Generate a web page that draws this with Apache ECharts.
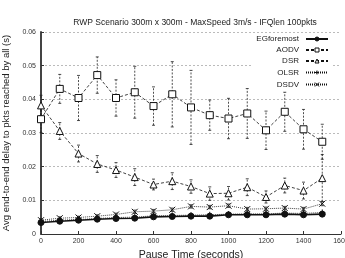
<!DOCTYPE html>
<html>
<head>
<meta charset="utf-8">
<script src="https://cdn.jsdelivr.net/npm/echarts@6/dist/echarts.min.js"></script>
<style>
  html, body { margin: 0; padding: 0; background: #fff; }
  #main { width: 345px; height: 258px; }
</style>
</head>
<body>
<div id="main"></div>
<script>
  // pause times (s)
  var pauseTimes = [0, 100, 200, 300, 400, 500, 600, 700, 800, 900, 1000, 1100, 1200, 1300, 1400, 1500];

  // mean delay values
  var egforemost = [0.0034, 0.0038, 0.0041, 0.0044, 0.0046, 0.0047, 0.0051, 0.0052, 0.0053, 0.0053, 0.0057, 0.0057, 0.0057, 0.0059, 0.0057, 0.0059];
  var aodv = [0.0341, 0.0431, 0.0404, 0.0472, 0.0404, 0.0421, 0.0380, 0.0415, 0.0376, 0.0353, 0.0343, 0.0358, 0.0308, 0.0363, 0.0311, 0.0274];
  var dsr = [0.0382, 0.0306, 0.0239, 0.0208, 0.0190, 0.0169, 0.0147, 0.0157, 0.0141, 0.0120, 0.0121, 0.0139, 0.0110, 0.0144, 0.0129, 0.0166];
  var olsr = [0.0037, 0.0041, 0.0043, 0.0046, 0.0049, 0.0050, 0.0054, 0.0055, 0.0056, 0.0057, 0.0059, 0.0060, 0.0060, 0.0062, 0.0061, 0.0064];
  var dsdv = [0.0041, 0.0047, 0.0049, 0.0053, 0.0058, 0.0066, 0.0068, 0.0072, 0.0082, 0.0080, 0.0084, 0.0074, 0.0075, 0.0077, 0.0074, 0.0090];

  // half-width of the confidence intervals
  var egforemostErr = [0.0003, 0.0003, 0.0003, 0.0003, 0.0003, 0.0003, 0.0003, 0.0003, 0.0003, 0.0003, 0.0003, 0.0003, 0.0003, 0.0003, 0.0003, 0.0003];
  var aodvErr = [0.0040, 0.0043, 0.0067, 0.0054, 0.0054, 0.0077, 0.0057, 0.0097, 0.0110, 0.0045, 0.0060, 0.0074, 0.0057, 0.0058, 0.0059, 0.0052];
  var dsrErr = [0.0030, 0.0025, 0.0025, 0.0025, 0.0022, 0.0025, 0.0016, 0.0025, 0.0020, 0.0020, 0.0020, 0.0025, 0.0018, 0.0022, 0.0025, 0.0070];
  var olsrErr = [0.0003, 0.0003, 0.0003, 0.0003, 0.0003, 0.0003, 0.0003, 0.0003, 0.0003, 0.0003, 0.0003, 0.0003, 0.0003, 0.0003, 0.0003, 0.0003];
  var dsdvErr = [0.0004, 0.0004, 0.0004, 0.0004, 0.0004, 0.0005, 0.0005, 0.0005, 0.0005, 0.0005, 0.0005, 0.0005, 0.0005, 0.0005, 0.0005, 0.0006];

  var plusPath = 'path://M5,0L5,10M0,5L10,5';
  var crossPath = 'path://M0,0L10,10M10,0L0,10';

  function pairs(vals) {
    return pauseTimes.map(function (t, i) { return [t, vals[i]]; });
  }

  function errorSeries(name, vals, errs, dash) {
    return {
      name: name,
      type: 'custom',
      silent: true,
      z: 1,
      itemStyle: { color: '#111' },
      data: pauseTimes.map(function (t, i) { return [t, vals[i] - errs[i], vals[i] + errs[i]]; }),
      renderItem: function (params, api) {
        var lo = api.coord([api.value(0), api.value(1)]);
        var hi = api.coord([api.value(0), api.value(2)]);
        var cap = 1.5;
        var style = { stroke: '#222', lineWidth: 0.8, lineDash: dash };
        return {
          type: 'group',
          children: [
            { type: 'line', shape: { x1: lo[0], y1: lo[1], x2: hi[0], y2: hi[1] }, style: style },
            { type: 'line', shape: { x1: lo[0] - cap, y1: lo[1], x2: lo[0] + cap, y2: lo[1] }, style: { stroke: '#222', lineWidth: 0.8 } },
            { type: 'line', shape: { x1: hi[0] - cap, y1: hi[1], x2: hi[0] + cap, y2: hi[1] }, style: { stroke: '#222', lineWidth: 0.8 } }
          ]
        };
      }
    };
  }

  function lineSeries(name, vals, symbol, size, dash, width, fill) {
    return {
      name: name,
      type: 'line',
      data: pairs(vals),
      symbol: symbol,
      symbolSize: size,
      showAllSymbol: true,
      z: 3,
      color: '#111',
      lineStyle: { color: '#111', width: width, type: dash },
      itemStyle: { color: fill, borderColor: '#111', borderWidth: 1 }
    };
  }

  var chart = echarts.init(document.getElementById('main'));
  chart.setOption({
    animation: false,
    color: ['#111'],
    textStyle: { fontFamily: 'Liberation Sans, Arial, sans-serif' },
    title: {
      text: 'RWP Scenario 300m x 300m - MaxSpeed 3m/s - IFQlen 100pkts',
      left: 190,
      textAlign: 'center',
      top: 13,
      textStyle: { fontSize: 8.5, fontWeight: 'normal', color: '#222' }
    },
    legend: {
      right: 14,
      top: 34,
      orient: 'vertical',
      align: 'right',
      itemWidth: 22,
      itemHeight: 5,
      itemGap: 3,
      backgroundColor: '#fff',
      padding: [1, 2, 1, 4],
      textStyle: { fontSize: 8, color: '#222', padding: [0, 2, 0, 0] },
      data: [
        { name: 'EGforemost', itemStyle: { color: '#111', borderColor: '#111', borderWidth: 1 } },
        { name: 'AODV', itemStyle: { color: '#fff', borderColor: '#111', borderWidth: 1 } },
        { name: 'DSR', itemStyle: { color: '#fff', borderColor: '#111', borderWidth: 1 } },
        { name: 'OLSR', itemStyle: { color: 'none', borderColor: '#111', borderWidth: 1 } },
        { name: 'DSDV', itemStyle: { color: 'none', borderColor: '#111', borderWidth: 1 } }
      ]
    },
    grid: { left: 41, right: 4, top: 32, bottom: 24, outerBoundsMode: 'none' },
    xAxis: {
      type: 'value',
      min: 0,
      max: 1600,
      interval: 200,
      name: 'Pause Time (seconds)',
      nameLocation: 'middle',
      nameGap: 12,
      nameTextStyle: { fontSize: 10.5, color: '#222' },
      axisLine: { lineStyle: { color: '#333', width: 1 } },
      axisTick: { inside: true, length: 3, lineStyle: { color: '#333' } },
      axisLabel: { fontSize: 7, color: '#333', margin: 4,
        formatter: function (v) { return String(v); } },
      splitLine: { show: false }
    },
    yAxis: {
      type: 'value',
      min: 0,
      max: 0.06,
      interval: 0.01,
      name: 'Avg end-to-end delay to pkts reached by all (s)',
      nameLocation: 'middle',
      nameGap: 27,
      nameTextStyle: { fontSize: 9.5, color: '#222' },
      axisLine: { show: true, lineStyle: { color: '#444', width: 2 } },
      axisTick: { inside: true, length: 3, lineStyle: { color: '#333' } },
      axisLabel: { fontSize: 7, color: '#333', margin: 5,
        formatter: function (v) { return v === 0 ? '0' : v.toFixed(2); } },
      splitLine: { lineStyle: { color: '#aaa', type: [2, 2], width: 0.8 } }
    },
    series: [
      lineSeries('EGforemost', egforemost, 'circle', 6, 'solid', 1.6, '#111'),
      lineSeries('AODV', aodv, 'rect', 7, [3, 2], 0.8, '#fff'),
      lineSeries('DSR', dsr, 'triangle', 7, [3, 2], 0.8, '#fff'),
      lineSeries('OLSR', olsr, plusPath, 6, [1, 1], 0.8, 'none'),
      lineSeries('DSDV', dsdv, crossPath, 6, [1, 1], 0.8, 'none'),
      errorSeries('AODV', aodv, aodvErr, [2, 1.5]),
      errorSeries('DSR', dsr, dsrErr, [2, 1.5]),
      errorSeries('DSDV', dsdv, dsdvErr, [1, 1]),
      errorSeries('OLSR', olsr, olsrErr, [1, 1]),
      errorSeries('EGforemost', egforemost, egforemostErr, null)
    ]
  });
</script>
</body>
</html>
